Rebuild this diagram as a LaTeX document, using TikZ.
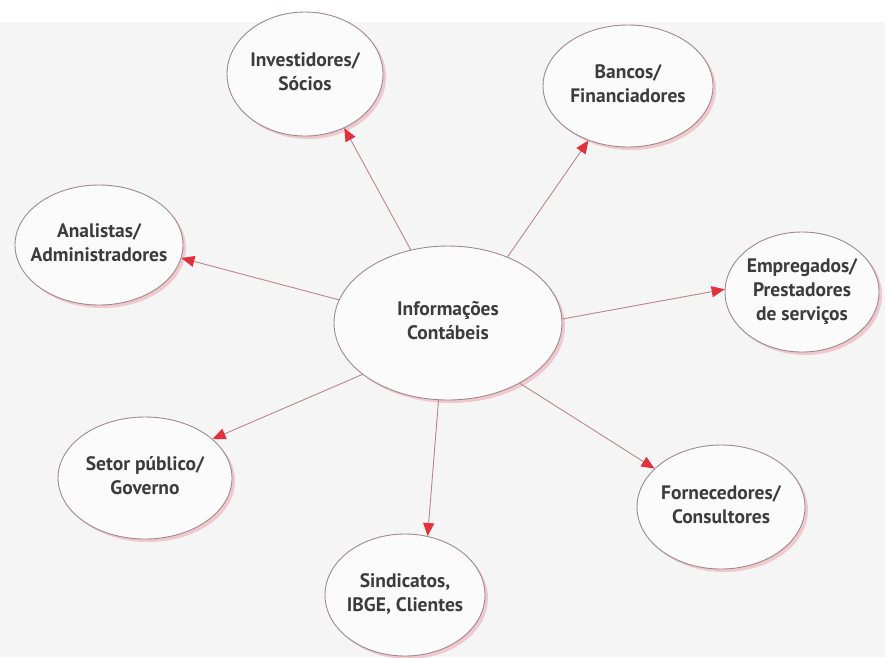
\documentclass[tikz,border=0pt]{standalone}
\usepackage{fontspec}
\setmainfont{PT Sans}
\usetikzlibrary{shapes.geometric,arrows.meta}
\definecolor{bg}{HTML}{F6F5F5}
\definecolor{edge}{HTML}{9C8A90}
\definecolor{shade}{HTML}{F0C8CE}
\definecolor{txt}{HTML}{3C3C3C}
\definecolor{lnk}{HTML}{B8868E}
\definecolor{tip}{HTML}{E2303C}
\tikzset{
  bubble/.style={ellipse, draw=edge, line width=0.9pt, fill=white!60!bg, inner sep=0pt,
    text=txt, font=\bfseries\fontsize{19.5}{24}\selectfont},
  shadowell/.style={ellipse, fill=shade, inner sep=0pt},
  link/.style={draw=lnk, line width=0.9pt, -{Triangle[length=13pt,width=11pt,fill=tip,color=tip]}}
}
\newcommand{\lbl}[1]{\makebox[0pt]{\begin{tabular}{@{}c@{}}#1\end{tabular}}}
\newcommand{\bub}[6]{%
  \node[shadowell, minimum width=#4pt, minimum height=#5pt] at (#2+3,#3+3) {};
  \node[bubble, minimum width=#4pt, minimum height=#5pt] (#1) at (#2,#3) {\lbl{#6}};}
\begin{document}
\begin{tikzpicture}[x=1pt,y=-1pt]
\fill[bg] (0,0) rectangle (885,657);
\fill[white] (0,0) rectangle (885,22);
\useasboundingbox (0,0) rectangle (885,657);
\bub{c}{448}{323}{228}{154}{Informações\\Contábeis}
\bub{inv}{305}{74}{156}{124}{Investidores/\\Sócios}
\bub{ban}{628}{86}{170}{122}{Bancos/\\Financiadores}
\bub{ana}{99}{245}{168}{120}{Analistas/\\Administradores}
\bub{emp}{802}{292}{154}{120}{Empregados/\\Prestadores\\de serviços}
\bub{set}{145}{478}{174}{122}{Setor público/\\Governo}
\bub{sin}{405}{595}{160}{122}{Sindicatos,\\IBGE, Clientes}
\bub{for}{721}{507}{168}{124}{Fornecedores/\\Consultores}
\draw[link] (c.117) -- (inv.306);
\draw[link] (c.48) -- (ban.234);
\draw[link] (c.168) -- (ana.351);
\draw[link] (c.2) -- (emp.178);
\draw[link] (c.211) -- (set.30);
\draw[link] (c.263) -- (sin.69);
\draw[link] (c.320) -- (for.150);
\end{tikzpicture}
\end{document}
